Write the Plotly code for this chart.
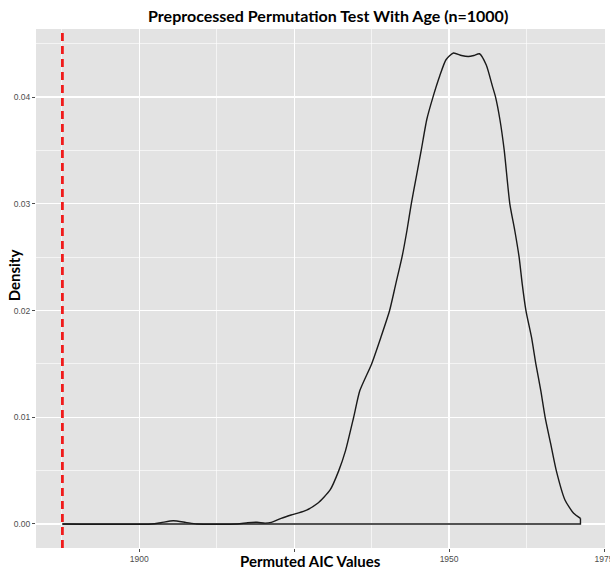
import plotly.graph_objects as go

# Density curve (x = permuted AIC, y = density)
aic_values = [1887.6, 1902.0, 1903.5, 1905.5, 1907.5, 1909.3, 1915.8, 1917.5, 1919.0,
              1920.3, 1921.3, 1922.9, 1924.5, 1926.7, 1928.8, 1930.8, 1932.2, 1933.3,
              1934.6, 1935.6, 1937.5, 1939.0, 1940.4, 1941.4, 1942.4, 1943.2, 1943.9,
              1944.7, 1945.5, 1946.4, 1947.4, 1948.5, 1949.5, 1950.7, 1952.0, 1953.1,
              1954.0, 1954.9, 1956.0, 1957.0, 1957.5, 1958.2, 1958.9, 1959.8, 1960.6,
              1961.3, 1961.8, 1962.4, 1963.3, 1964.0, 1964.8, 1965.5, 1966.4, 1967.3,
              1968.7, 1970.1, 1971.2]
density_values = [0.0, 0.0, 0.00012, 0.00030, 0.00015, 0.0, 0.0, 0.00012, 0.00016,
                  0.00008, 0.00015, 0.00053, 0.00084, 0.00122, 0.00194, 0.00319, 0.0050, 0.0069,
                  0.0100, 0.0125, 0.0150, 0.0175, 0.0200, 0.0225, 0.0250, 0.0275, 0.0300,
                  0.0325, 0.0350, 0.0379, 0.0400, 0.0420, 0.0435, 0.04413, 0.0439, 0.04381,
                  0.0439, 0.04406, 0.0430, 0.0410, 0.0400, 0.0379, 0.0350, 0.0300, 0.0275,
                  0.0250, 0.0225, 0.0200, 0.0175, 0.0150, 0.0125, 0.0100, 0.0075, 0.0050,
                  0.00225, 0.0010, 0.00053]
observed_aic = 1887.6

x_ticks = [1900, 1925, 1950, 1975]
x_tick_labels = ["1900", "", "1950", "1975"]
y_ticks = [0.00, 0.01, 0.02, 0.03, 0.04]

fig = go.Figure()
# smooth density outline
fig.add_trace(go.Scatter(x=aic_values, y=density_values, mode="lines",
                         line=dict(color="#1a1a1a", width=1.4, shape="spline", smoothing=0.6),
                         hoverinfo="skip", showlegend=False))
# closing edge of the density polygon (drop at the max and baseline back to the min)
fig.add_trace(go.Scatter(x=[aic_values[-1], aic_values[-1], aic_values[0]],
                         y=[density_values[-1], 0, 0], mode="lines",
                         line=dict(color="#1a1a1a", width=1.4),
                         hoverinfo="skip", showlegend=False))
fig.add_vline(x=observed_aic, line=dict(color="#F01B1B", width=2.8, dash="8px,5px"))

tick_font = dict(family="Liberation Sans, Arial, sans-serif", size=8.5, color="#4D4D4D")
axis_title_font = dict(family="Lato, sans-serif", size=15, color="black")

fig.update_layout(
    width=610, height=574,
    margin=dict(l=36, r=5, t=29, b=26, autoexpand=False),
    paper_bgcolor="white", plot_bgcolor="#E3E3E3",
    hovermode=False,
    title=dict(text="<b>Preprocessed Permutation Test With Age (n=1000)</b>",
               x=0.538, xref="container", xanchor="center", y=1 - 16 / 574, yanchor="middle",
               font=dict(family="Lato, sans-serif", size=16, color="black")),
    xaxis=dict(range=[1883.34, 1975.16], tickvals=x_ticks, ticktext=x_tick_labels,
               showgrid=True, gridcolor="white", gridwidth=1.2, zeroline=False,
               ticks="outside", ticklen=3, tickcolor="#4D4D4D", tickfont=tick_font,
               ticklabeloverflow="allow",
               minor=dict(dtick=12.5, tick0=1900, showgrid=True, gridcolor="white", gridwidth=0.6),
               automargin=False, showline=False),
    yaxis=dict(range=[-0.00225, 0.04638], tickvals=y_ticks, ticktext=[f"{v:.2f}" for v in y_ticks],
               showgrid=True, gridcolor="white", gridwidth=1.2, zeroline=False,
               ticks="outside", ticklen=3, tickcolor="#4D4D4D", tickfont=tick_font,
               ticklabeloverflow="allow",
               minor=dict(dtick=0.005, tick0=0, showgrid=True, gridcolor="white", gridwidth=0.6),
               automargin=False, showline=False),
    annotations=[
        dict(text="<b>Permuted AIC Values</b>", xref="paper", yref="paper",
             x=0.483, y=-0.025, xanchor="center", yanchor="middle", showarrow=False,
             font=axis_title_font),
        dict(text="<b>Density</b>", xref="paper", yref="paper",
             x=-0.039, y=0.525, xanchor="center", yanchor="middle", showarrow=False,
             textangle=-90, font=axis_title_font),
    ],
)

fig.write_html("out.html", config={"displayModeBar": False, "staticPlot": True},
               post_script="document.body.style.margin='0px';document.body.style.overflow='hidden';")
